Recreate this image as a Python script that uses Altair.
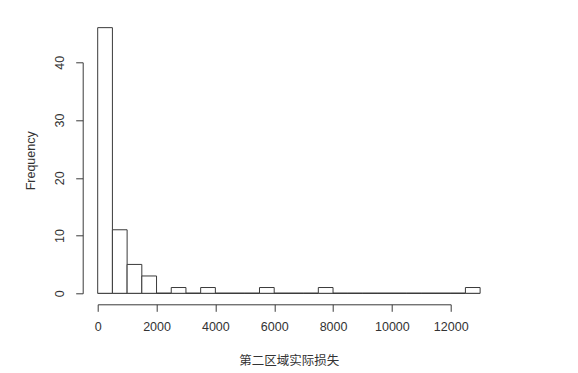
import altair as alt
import pandas as pd

# Histogram bins (width 500) and their frequencies
bin_starts = [500 * i for i in range(26)]
bin_ends = [s + 500 for s in bin_starts]
counts = [46, 11, 5, 3, 0, 1, 0, 1, 0, 0, 0, 1, 0, 0, 0, 1,
          0, 0, 0, 0, 0, 0, 0, 0, 0, 1]

x_ticks = [0, 2000, 4000, 6000, 8000, 10000, 12000]
y_ticks = [0, 10, 20, 30, 40]

df = pd.DataFrame({"start": bin_starts, "end": bin_ends, "count": counts})
df["zero"] = 0

LINE = "#3a3a3a"
TEXT = "#333333"
FONT = "Liberation Sans"

xscale = alt.Scale(domain=[0, 12000], nice=False, zero=False)
yscale = alt.Scale(domain=[0, 40], nice=False, zero=False)

xaxis = alt.Axis(
    values=x_ticks, format="d", grid=False, offset=11, tickSize=7,
    domainColor=LINE, tickColor=LINE, labelColor=TEXT, labelFont=FONT,
    labelFontSize=12.5, labelPadding=9, labelFlush=False, labelOverlap=False,
    title="第二区域实际损失", titleFont="Noto Sans CJK SC", titleFontSize=12.5,
    titleFontWeight="normal", titleColor=TEXT, titleX=191, titleY=56,
    titleBaseline="middle", titleAlign="center",
)
yaxis = alt.Axis(
    values=y_ticks, format="d", grid=False, offset=15, tickSize=7,
    domainColor=LINE, tickColor=LINE, labelColor=TEXT, labelFont=FONT,
    labelFontSize=12.5, labelAngle=270, labelAlign="center",
    labelBaseline="bottom", labelPadding=9, labelFlush=False,
    title="Frequency", titleFont=FONT, titleFontSize=12.5,
    titleFontWeight="normal", titleColor=TEXT, titleAngle=270,
    titleX=-52, titleY=98, titleBaseline="middle", titleAlign="center",
)

base = alt.Chart(df)

bars = base.mark_rect(fill="white", stroke=LINE, strokeWidth=1).encode(
    x=alt.X("start:Q", scale=xscale, axis=xaxis),
    x2="end:Q",
    y=alt.Y("count:Q", scale=yscale, axis=yaxis),
    y2="zero:Q",
)

baseline = base.mark_rule(color=LINE, strokeWidth=1).encode(
    x=alt.X("start:Q", scale=xscale),
    x2="end:Q",
    y=alt.Y("zero:Q", scale=yscale),
)

chart = alt.layer(baseline, bars).properties(
    width=353, height=231,
    autosize=alt.AutoSizeParams(type="none"),
    padding={"left": 97.7, "top": 62.3, "right": 127.3, "bottom": 79.7},
    background="white",
).configure_view(strokeWidth=0)

chart.save("out.html", embed_options={"renderer": "svg", "actions": False})
